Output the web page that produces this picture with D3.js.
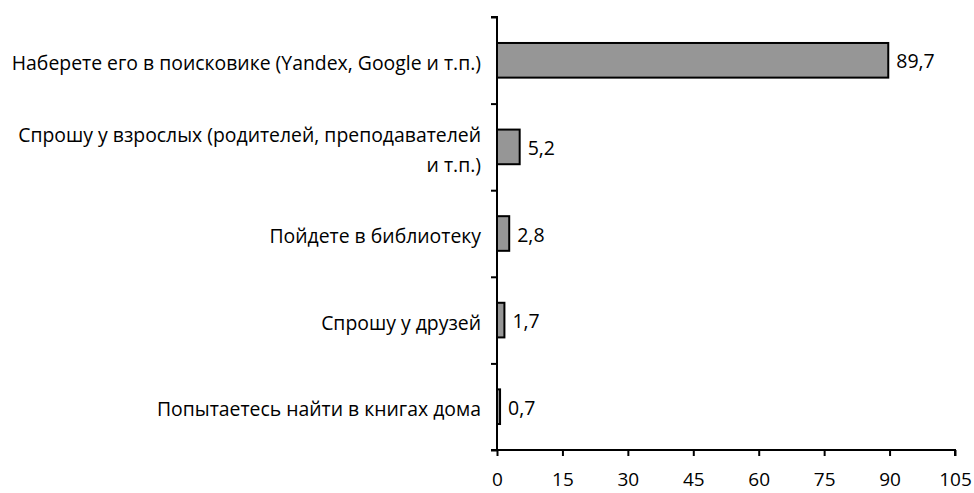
<!DOCTYPE html>
<html><head><meta charset="utf-8">
<script src="https://cdn.jsdelivr.net/npm/d3@7"></script>
<style>body{margin:0;background:#fff}svg text{font-family:"Open Sans",Lato,sans-serif;fill:#000}</style>
</head><body>
<svg id="c" width="974" height="493"></svg>
<script>
const categories = [
  ["Наберете его в поисковике (Yandex, Google и т.п.)"],
  ["Спрошу у взрослых (родителей, преподавателей", "и т.п.)"],
  ["Пойдете в библиотеку"],
  ["Спрошу у друзей"],
  ["Попытаетесь найти в книгах дома"]
];
const values = [89.7, 5.2, 2.8, 1.7, 0.7];
const valueLabels = ["89,7", "5,2", "2,8", "1,7", "0,7"];
const xTicks = [0, 15, 30, 45, 60, 75, 90, 105];

(function () {
const svg = d3.select("#c");
const mLeft = 497, mRight = 955, mTop = 17, mBottom = 450;
const keys = categories.map((d, i) => i);
const x = d3.scaleLinear().domain([0, 105]).range([mLeft, mRight]);
const y = d3.scaleBand().domain(keys).range([mTop, mBottom]).paddingInner(0.6).paddingOuter(0.3);
const yb = d3.scaleBand().domain(keys).range([mTop, mBottom]);

svg.selectAll("rect.bar").data(values).join("rect")
  .attr("x", x(0)).attr("y", (d, i) => y(i))
  .attr("width", d => x(d) - x(0)).attr("height", y.bandwidth())
  .attr("fill", "#969696").attr("stroke", "#000").attr("stroke-width", 2);

svg.selectAll("text.val").data(values).join("text")
  .attr("x", d => x(d) + 8).attr("y", (d, i) => y(i) + y.bandwidth() / 2)
  .attr("dy", "0.42em").attr("font-size", 19.5).text((d, i) => valueLabels[i]);

const yAxis = d3.axisLeft(d3.scaleLinear().domain([0, 5]).range([mTop, mBottom]))
  .tickValues([0, 1, 2, 3, 4, 5]).tickSize(6).tickFormat("");
svg.append("g").attr("transform", `translate(${mLeft},0)`).call(yAxis)
  .call(g => { g.select(".domain").attr("stroke-width", 2).attr("d", `M-6,${mTop}H0V${mBottom}`);
               g.selectAll(".tick line").attr("stroke-width", 2); });

const lineH = 30;
categories.forEach((lines, i) => {
  const cy = yb(i) + yb.bandwidth() / 2;
  const t = svg.append("text").attr("text-anchor", "end").attr("font-size", 19.4);
  lines.forEach((ln, j) => {
    t.append("tspan").attr("x", mLeft - 16)
      .attr("y", cy + (j - (lines.length - 1) / 2) * lineH).attr("dy", "0.5em").text(ln);
  });
});

const xAxis = d3.axisBottom(x).tickValues(xTicks).tickSize(6).tickPadding(17).tickFormat(d3.format("d"));
svg.append("g").attr("transform", `translate(0,${mBottom})`).call(xAxis)
  .call(g => { g.select(".domain").attr("stroke-width", 2).attr("d", `M${mLeft - 6},0H${mRight}V6`);
               g.selectAll(".tick line").attr("stroke-width", 2);
               g.selectAll(".tick text").attr("font-size", 19).attr("font-family", '"Open Sans",Lato,sans-serif'); });
})();
</script>
</body></html>
